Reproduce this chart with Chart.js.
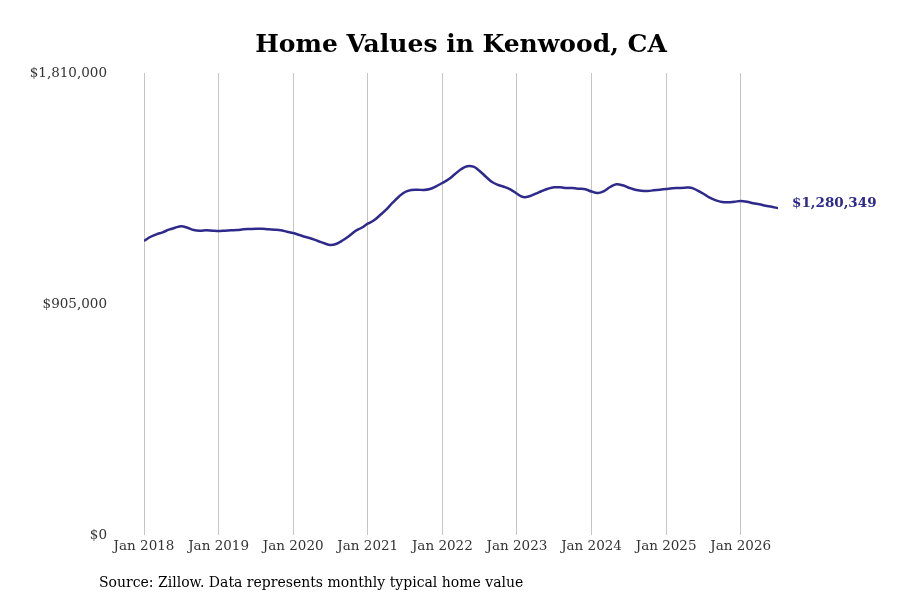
<!DOCTYPE html>
<html>
<head>
<meta charset="utf-8">
<script src="https://cdn.jsdelivr.net/npm/chart.js@4/dist/chart.umd.min.js"></script>
<style>
    html, body { margin: 0; padding: 0; background: #ffffff; }
    #wrap { width: 900px; height: 600px; position: relative; }
</style>
</head>
<body>
<div id="wrap"><canvas id="home-chart"></canvas></div>
<script>
// Valeurs mensuelles, Jan 2018 -> Jul 2026
const homeValues = [
    1151800, 1167500, 1178000, 1185900, 1196100, 1203900, 1209400, 1203900, 1194900, 1192200, 1193700, 1192200,
    1191000, 1192200, 1193700, 1194900, 1197600, 1198800, 1200000, 1200000, 1197600, 1196100, 1193700, 1188200,
    1183100, 1175300, 1167500, 1160800, 1151800, 1142800, 1136100, 1141200, 1154600, 1171400, 1191000, 1203900,
    1219600, 1232900, 1253700, 1276000, 1301900, 1325400, 1343800, 1351600, 1352800, 1351600, 1355500, 1366100,
    1379000, 1393500, 1413100, 1432700, 1444500, 1442900, 1426000, 1403700, 1382900, 1371200, 1363400, 1352800,
    1337100, 1324200, 1326900, 1337100, 1347700, 1356700, 1362200, 1362200, 1359500, 1359500, 1356700, 1354300,
    1345700, 1339900, 1347700, 1363400, 1373900, 1370000, 1360600, 1352800, 1348900, 1347700, 1350400, 1352800,
    1355500, 1358300, 1359500, 1360600, 1360600, 1350400, 1337100, 1321400, 1311200, 1304600, 1303400, 1305800,
    1308500, 1305800, 1299500, 1295600, 1290100, 1286200, 1280349
];

// Graduations de l'axe X (index du mois depuis Jan 2018)
const tickMonths = [0, 12, 24, 36, 48, 60, 72, 84, 96];
const tickLabels = ['Jan 2018', 'Jan 2019', 'Jan 2020', 'Jan 2021', 'Jan 2022', 'Jan 2023', 'Jan 2024', 'Jan 2025', 'Jan 2026'];

// Graduations de l'axe Y
const yTicks = [0, 905000, 1810000];

const chartTitle = 'Home Values in Kenwood, CA';
const sourceNote = 'Source: Zillow. Data represents monthly typical home value';
const lastLabel = '$1,280,349';

const lineColor = '#2e2a8c';
const serif = '"DejaVu Serif", "Liberation Serif", serif';

function formatDollars(v) {
    return '$' + v.toLocaleString('en-US');
}

// Titre, source et étiquette de la dernière valeur
const annotations = {
    id: 'annotations',
    afterDraw(chart) {
        const c = chart.ctx;
        const area = chart.chartArea;
        c.save();
        c.fillStyle = '#000000';
        c.font = 'bold 25px ' + serif;
        c.textAlign = 'center';
        c.textBaseline = 'middle';
        c.fillText(chartTitle, (area.left + area.right) / 2, 45);

        c.font = '14px ' + serif;
        c.textAlign = 'left';
        c.fillText(sourceNote, 99, 583);

        const meta = chart.getDatasetMeta(0);
        const last = meta.data[meta.data.length - 1];
        c.fillStyle = lineColor;
        c.font = 'bold 13.5px ' + serif;
        c.fillText(lastLabel, last.x + 14, last.y - 5);
        c.restore();
    }
};

const ctx = document.getElementById('home-chart');
new Chart(ctx, {
    type: 'line',
    data: {
        datasets: [{
            data: homeValues.map((v, i) => ({ x: i, y: v })),
            borderColor: lineColor,
            borderWidth: 2.5,
            pointRadius: 0,
            tension: 0.4,
            fill: false
        }]
    },
    options: {
        responsive: true,
        maintainAspectRatio: false,
        animation: false,
        layout: {
            padding: { top: 73, right: 122, bottom: 45, left: 0 }
        },
        plugins: {
            legend: { display: false },
            tooltip: { enabled: false },
            title: { display: false }
        },
        scales: {
            x: {
                type: 'linear',
                min: 0,
                max: homeValues.length - 1,
                afterBuildTicks: (scale) => {
                    scale.ticks = tickMonths.map(v => ({ value: v }));
                },
                afterFit: (scale) => { scale.height = 20; },
                grid: {
                    color: '#c4c4c4',
                    lineWidth: 1,
                    drawTicks: false
                },
                border: { display: false },
                ticks: {
                    padding: 3,
                    maxRotation: 0,
                    autoSkip: false,
                    color: '#333333',
                    font: { family: serif, size: 13.5 },
                    callback: (value) => tickLabels[tickMonths.indexOf(value)]
                }
            },
            y: {
                min: 0,
                max: 1810000,
                afterBuildTicks: (scale) => {
                    scale.ticks = yTicks.map(v => ({ value: v }));
                },
                afterFit: (scale) => { scale.width = 144; },
                grid: { display: false, drawTicks: false },
                border: { display: false },
                ticks: {
                    padding: 37,
                    color: '#333333',
                    font: { family: serif, size: 13.5 },
                    callback: (value) => formatDollars(value)
                }
            }
        }
    },
    plugins: [annotations]
});
</script>
</body>
</html>
